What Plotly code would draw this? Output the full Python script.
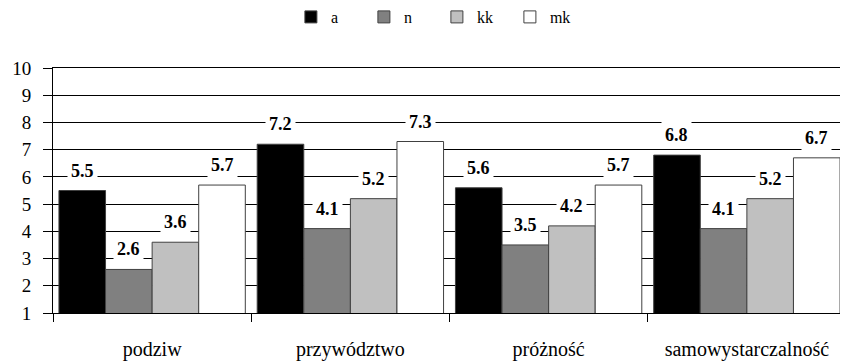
import plotly.graph_objects as go

categories = ["podziw", "przywództwo", "próżność", "samowystarczalność"]
series_names = ["a", "n", "kk", "mk"]
a_vals = [5.5, 7.2, 5.6, 6.8]
n_vals = [2.6, 4.1, 3.5, 4.1]
kk_vals = [3.6, 5.2, 4.2, 5.2]
mk_vals = [5.7, 7.3, 5.7, 6.7]
y_ticks = list(range(1, 11))

series = [a_vals, n_vals, kk_vals, mk_vals]
colors = ["#000000", "#808080", "#C0C0C0", "#FFFFFF"]
FONT = "Liberation Serif, Times New Roman, serif"

bargap = 0.06
bar_w = (1 - bargap) / len(series)

# page body has an 8px default margin; figure sized to fit the window
W, H = 840, 353

fig = go.Figure()
for name, vals, col in zip(series_names, series, colors):
    fig.add_trace(go.Bar(
        name=name, x=categories, y=vals,
        marker=dict(color=col, line=dict(color="#404040", width=1)),
    ))

annotations = []
for si, vals in enumerate(series):
    off = (si - (len(series) - 1) / 2) * bar_w
    for ci, v in enumerate(vals):
        annotations.append(dict(
            x=ci + off, y=v, xref="x", yref="y",
            text=f"<b>{v:.1f}</b>", showarrow=False,
            yanchor="middle", yshift=20,
            bgcolor="white", borderpad=3,
            font=dict(family=FONT, size=18, color="black"),
        ))

fig.update_layout(
    barmode="group", bargap=bargap, bargroupgap=0,
    width=W, height=H,
    margin=dict(l=45, r=2, t=60, b=48, autoexpand=False),
    paper_bgcolor="white", plot_bgcolor="white",
    font=dict(family=FONT, size=18, color="black"),
    showlegend=True,
    legend=dict(orientation="h", x=0.3, xanchor="left",
                y=1 - 9 / H, yanchor="middle", yref="container",
                font=dict(family=FONT, size=16), itemwidth=30,
                entrywidth=28, tracegroupgap=0, itemclick=False),
    annotations=annotations,
    xaxis=dict(type="category", tickson="boundaries", ticks="outside", ticklen=8,
               tickcolor="black", showline=True, linecolor="black", linewidth=1,
               mirror=True, showgrid=False, ticklabelstandoff=18, automargin=False,
               tickfont=dict(family=FONT, size=20)),
    yaxis=dict(range=[1, 10], tickvals=y_ticks, ticks="outside", ticklen=9,
               tickcolor="black", showline=True, linecolor="black", linewidth=1,
               mirror=True, showgrid=True, gridcolor="black", gridwidth=1,
               zeroline=False, ticklabelstandoff=8, automargin=False,
               tickfont=dict(family=FONT, size=19)),
)

fig.write_html("out.html")
